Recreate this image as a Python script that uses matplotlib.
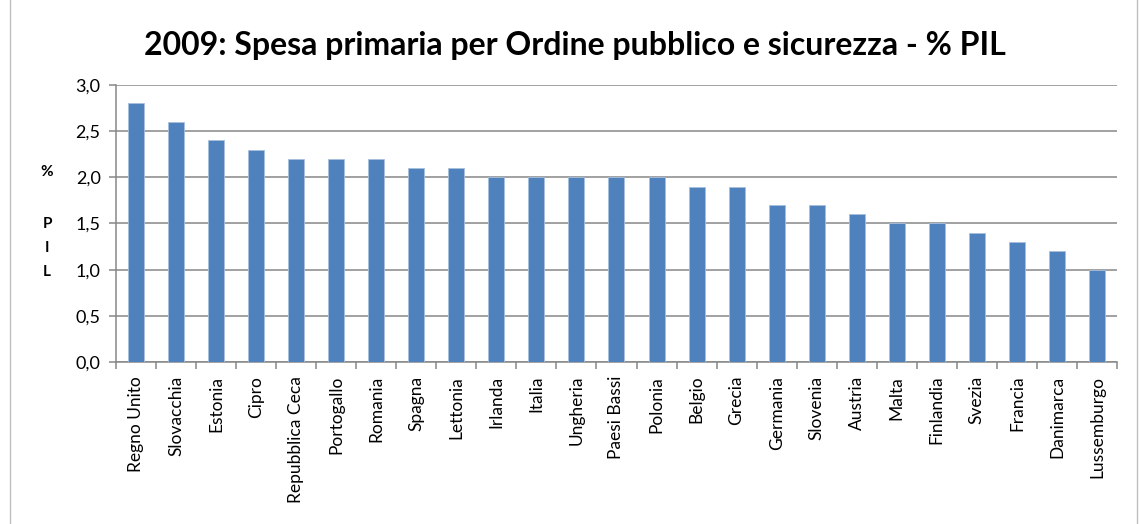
import matplotlib
matplotlib.use("Agg")
import matplotlib.pyplot as plt
from matplotlib.lines import Line2D

paesi = ["Regno Unito", "Slovacchia", "Estonia", "Cipro", "Repubblica Ceca",
         "Portogallo", "Romania", "Spagna", "Lettonia", "Irlanda", "Italia",
         "Ungheria", "Paesi Bassi", "Polonia", "Belgio", "Grecia", "Germania",
         "Slovenia", "Austria", "Malta", "Finlandia", "Svezia", "Francia",
         "Danimarca", "Lussemburgo"]
spesa = [2.8, 2.6, 2.4, 2.3, 2.2, 2.2, 2.2, 2.1, 2.1, 2.0, 2.0, 2.0, 2.0, 2.0,
         1.9, 1.9, 1.7, 1.7, 1.6, 1.5, 1.5, 1.4, 1.3, 1.2, 1.0]
y_ticks = [0.0, 0.5, 1.0, 1.5, 2.0, 2.5, 3.0]

plt.rcParams["font.family"] = ["Lato", "DejaVu Sans"]

fig = plt.figure(figsize=(11.39, 5.24), dpi=100)
ax = fig.add_axes([0.1018, 0.3092, 0.8789, 0.5286])

x = list(range(len(paesi)))
ax.bar(x, spesa, width=0.4, color="#4F81BD", edgecolor="#A7C0DE", linewidth=0.6, zorder=3)

ax.set_xlim(-0.5, len(paesi) - 0.5)
ax.set_ylim(0, 3.0)
ax.set_yticks(y_ticks)
ax.set_yticklabels([f"{v:.1f}".replace(".", ",") for v in y_ticks], fontsize=13)
ax.yaxis.grid(True, color="#878787", linewidth=1.1, zorder=0)

ax.set_xticks(x)
ax.set_xticklabels(paesi, rotation=90, fontsize=12.5)
ax.tick_params(axis="x", length=0, pad=10)
ax.set_xticks([i - 0.5 for i in range(len(paesi) + 1)], minor=True)
ax.tick_params(axis="x", which="minor", length=5, color="#878787", width=1.1)
ax.tick_params(axis="y", length=5, color="#878787", width=1.1, pad=6)

for s in ["top", "right"]:
    ax.spines[s].set_visible(False)
for s in ["left", "bottom"]:
    ax.spines[s].set_color("#878787")
    ax.spines[s].set_linewidth(1.1)

fig.text(0.505, 0.913, "2009: Spesa primaria per Ordine pubblico e sicurezza - % PIL",
         ha="center", va="center", fontsize=23, fontweight="bold")

for lettera, ypix in [("%", 172), ("P", 224), ("I", 248), ("L", 272)]:
    fig.text(47 / 1139, 1 - ypix / 524, lettera, ha="center", va="center",
             fontsize=11, fontweight="bold")

# cornice del grafico
fig.add_artist(Line2D([10 / 1139, 10 / 1139], [0, 1], color="#BFBFBF", linewidth=1))
fig.add_artist(Line2D([1137 / 1139, 1137 / 1139], [0, 1], color="#BFBFBF", linewidth=1))

fig.savefig("out.png", dpi=100)
